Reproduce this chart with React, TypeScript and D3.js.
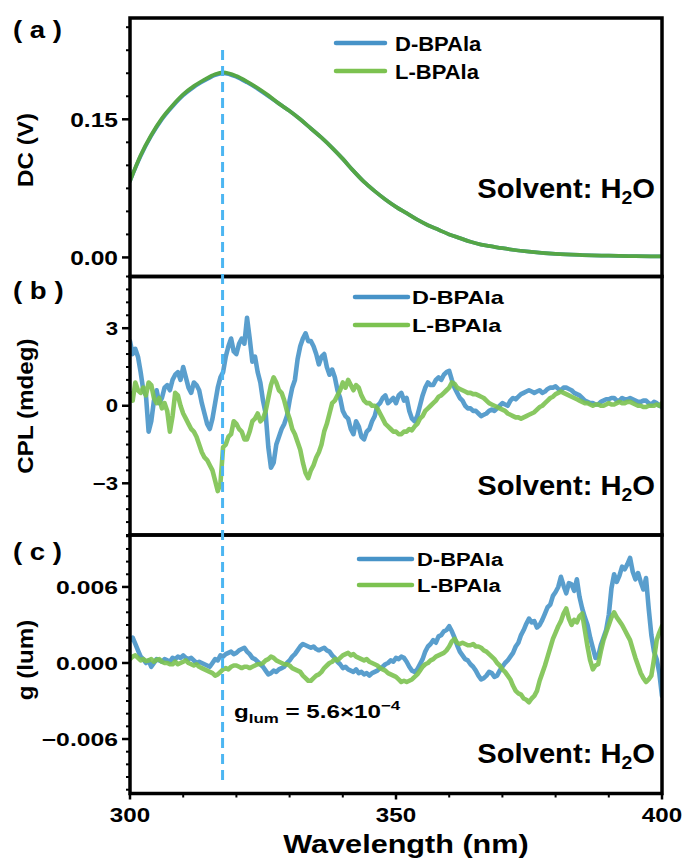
import React from "react";
import * as d3 from "d3";

// ---------- data ----------
// (a) DC signal, sampled on an uneven wavelength grid
const dcWavelengths = [300, 302, 304, 306, 308, 310, 312, 314, 316, 317.5, 320, 322, 324, 326, 328, 330, 332, 334, 336, 338, 340, 342, 344, 346, 348, 350, 352, 354, 356, 358, 360, 362, 364, 366, 368, 370, 375, 380, 385, 390, 395, 400];
const dcD = [0.083, 0.110, 0.132, 0.150, 0.164, 0.176, 0.185, 0.192, 0.198, 0.200, 0.196, 0.190, 0.183, 0.175, 0.167, 0.159, 0.150, 0.140, 0.130, 0.119, 0.107, 0.094, 0.082, 0.072, 0.063, 0.055, 0.048, 0.041, 0.035, 0.030, 0.025, 0.021, 0.017, 0.014, 0.012, 0.010, 0.0062, 0.0038, 0.0026, 0.0019, 0.0014, 0.0011];
const dcL = [0.083, 0.111, 0.133, 0.151, 0.165, 0.177, 0.186, 0.193, 0.199, 0.201, 0.197, 0.191, 0.184, 0.176, 0.167, 0.159, 0.150, 0.140, 0.130, 0.119, 0.107, 0.094, 0.082, 0.072, 0.063, 0.055, 0.048, 0.041, 0.035, 0.030, 0.025, 0.021, 0.017, 0.014, 0.012, 0.010, 0.0062, 0.0038, 0.0026, 0.0019, 0.0014, 0.0011];

// (b) and (c) are sampled every 0.5 nm from 300 to 400 nm
const scanWavelengths = d3.range(300, 400.25, 0.5);

// (b) CPL, mdeg
const cplD = [
  2.5, 2.0, 2.2, 1.9, 1.3, 0.6, 0.4, -1.0, -0.6, 0.2, 0.6, 0.1, 0.3, 0.7, 0.8, 0.6, 1.0, 1.2, 1.3, 1.0,
  1.5, 1.1, 0.7, 0.5, 0.9, 0.8, 0.6, 0.1, -0.3, -0.7, -0.9, -0.5, 0.1, 0.7, 1.1, 1.3, 1.9, 2.3, 2.6, 2.1,
  2.0, 2.4, 2.6, 2.4, 3.4, 2.6, 1.7, 1.9, 1.3, 0.9, 0.2, -0.3, -1.6, -2.4, -2.2, -1.5, -1.2, -0.9, -0.7, -0.4,
  0.2, 0.7, 1.0, 1.8, 2.3, 2.6, 2.8, 2.5, 2.5, 2.3, 2.0, 1.6, 1.9, 2.0, 1.5, 1.2, 1.4, 1.1, 0.6, 0.3,
  -0.2, -0.4, -0.5, -0.9, -1.1, -0.6, -0.8, -1.2, -1.3, -1.0, -0.9, -0.6, -0.4, 0.0, 0.1, 0.3, 0.4, 0.1, 0.2, 0.3,
  0.1, 0.4, 0.5, 0.2, 0.3, -0.2, -0.5, -0.6, -0.4, 0.0, 0.4, 0.7, 0.9, 0.8, 0.8, 1.0, 1.1, 1.0, 1.2, 1.3,
  1.35, 1.0, 0.7, 0.5, 0.3, 0.2, 0.0, -0.1, -0.1, -0.2, -0.2, -0.3, -0.4, -0.35, -0.3, -0.2, -0.15, -0.2, -0.1, 0.0,
  0.1, 0.05, 0.0, 0.2, 0.3, 0.25, 0.35, 0.45, 0.5, 0.55, 0.6, 0.55, 0.5, 0.55, 0.6, 0.5, 0.55, 0.65, 0.7, 0.7,
  0.75, 0.65, 0.6, 0.7, 0.7, 0.65, 0.6, 0.5, 0.45, 0.4, 0.3, 0.2, 0.15, 0.1, 0.1, 0.05, 0.05, 0.15, 0.2, 0.25,
  0.25, 0.3, 0.3, 0.2, 0.2, 0.3, 0.25, 0.25, 0.3, 0.25, 0.2, 0.15, 0.15, 0.2, 0.2, 0.1, 0.05, 0.15, 0.1, 0.0,
  -0.05,
];
const cplL = [
  0.5, 0.2, 0.9, 0.6, 0.5, 0.7, 0.4, 0.9, 0.8, 0.3, 0.1, 0.3, -0.1, 0.1, -0.2, -1.0, -0.4, 0.5, 0.4, 0.0,
  -0.3, -0.5, -0.7, -0.9, -1.0, -1.2, -1.5, -1.8, -2.0, -2.1, -2.3, -2.5, -2.9, -3.3, -3.0, -1.6, -1.5, -1.2, -1.1, -0.6,
  -0.7, -0.9, -1.0, -1.3, -1.3, -1.0, -0.6, -0.5, -0.3, -0.6, -0.5, -0.2, 0.3, 0.8, 1.1, 0.9, 0.6, 0.5, 0.2, -0.2,
  -0.5, -0.9, -1.1, -1.4, -1.7, -2.2, -2.6, -2.8, -2.5, -2.3, -2.0, -1.8, -1.5, -1.0, -0.7, -0.3, 0.1, 0.2, 0.4, 0.6,
  0.9, 0.7, 1.0, 0.8, 0.6, 0.8, 0.7, 0.4, 0.2, 0.1, 0.1, 0.0, 0.0, -0.1, -0.3, -0.5, -0.7, -0.8, -0.9, -1.0,
  -1.0, -1.1, -1.1, -1.0, -1.0, -0.9, -0.95, -0.8, -0.7, -0.5, -0.4, -0.2, -0.1, 0.0, 0.1, 0.2, 0.35, 0.4, 0.5, 0.6,
  0.7, 0.9, 0.85, 0.7, 0.65, 0.6, 0.55, 0.5, 0.5, 0.45, 0.45, 0.4, 0.35, 0.3, 0.2, 0.1, 0.05, 0.0, -0.05, -0.1,
  -0.15, -0.2, -0.3, -0.35, -0.4, -0.45, -0.45, -0.5, -0.45, -0.4, -0.35, -0.3, -0.25, -0.15, -0.05, 0.0, 0.1, 0.2, 0.3, 0.35,
  0.45, 0.5, 0.55, 0.5, 0.45, 0.4, 0.35, 0.3, 0.25, 0.2, 0.15, 0.1, 0.1, 0.05, 0.0, 0.05, 0.05, 0.0, 0.0, 0.05,
  0.1, 0.05, 0.05, 0.1, 0.15, 0.1, 0.1, 0.15, 0.15, 0.1, 0.05, 0.0, 0.0, -0.05, -0.05, 0.0, 0.0, 0.0, 0.05, 0.0,
  0.1,
];

// (c) dissymmetry factor, in units of 1e-3
const glumD = [
  1.8, 2.0, 1.5, 1.0, 0.5, 0.3, 0.0, 0.2, -0.3, 0.0, 0.3, 0.2, 0.1, 0.3, 0.2, 0.1, 0.4, 0.3, 0.5, 0.4,
  0.6, 0.4, 0.3, 0.4, 0.2, 0.0, 0.1, 0.0, -0.1, -0.2, -0.3, 0.0, 0.3, 0.2, 0.6, 0.5, 0.7, 0.8, 0.9, 0.7,
  0.8, 1.0, 1.1, 1.2, 0.9, 0.7, 0.4, 0.3, 0.1, -0.1, -0.3, -0.6, -0.9, -0.8, -0.6, -0.7, -0.5, -0.4, -0.3, 0.0,
  0.2, 0.5, 0.7, 1.0, 1.3, 1.5, 1.4, 1.3, 1.2, 1.3, 1.1, 1.0, 1.1, 1.2, 1.0, 0.9, 0.6, 0.4, 0.1, -0.1,
  -0.4, -0.3, -0.5, -0.6, -0.7, -0.5, -0.8, -0.7, -0.9, -0.8, -1.0, -0.8, -0.7, -0.6, -0.4, -0.3, -0.1, 0.0, 0.2, 0.1,
  0.4, 0.3, 0.5, 0.4, 0.1, -0.3, -0.6, -0.7, -0.5, -0.1, 0.3, 0.9, 1.3, 1.5, 1.8, 1.6, 2.1, 2.2, 2.5, 2.6,
  2.9, 2.5, 2.0, 1.4, 0.9, 0.6, 0.3, 0.2, -0.1, -0.3, -0.6, -1.0, -1.3, -1.2, -1.0, -0.7, -0.8, -1.1, -1.0, -0.6,
  -0.3, 0.0, 0.2, 0.5, 0.8, 1.3, 1.6, 2.2, 2.6, 3.1, 3.5, 3.2, 3.3, 2.8, 3.0, 3.4, 3.9, 4.4, 4.6, 5.3,
  5.6, 6.0, 6.8, 6.1, 5.5, 6.3, 6.2, 5.7, 6.6, 5.2, 4.3, 3.6, 3.0, 2.0, 1.2, 0.4, 0.5, 1.4, 2.0, 2.6,
  3.8, 5.9, 7.0, 6.4, 6.9, 7.6, 7.4, 7.8, 8.3, 7.2, 6.6, 7.1, 6.4, 5.8, 6.7, 4.3, 2.2, 0.9, 0.3, -0.8,
  -2.6,
];
const glumL = [
  0.3, 0.5, 0.6, 0.4, 0.2, 0.3, 0.15, 0.2, 0.3, 0.1, 0.25, 0.3, 0.1, 0.0, 0.0, -0.1, -0.1, 0.1, -0.1, 0.0,
  0.1, 0.2, 0.0, -0.1, -0.2, -0.1, -0.3, -0.4, -0.5, -0.6, -0.7, -0.8, -1.0, -0.9, -0.7, -0.5, -0.4, -0.5, -0.3, -0.2,
  -0.2, -0.3, -0.4, -0.3, -0.3, -0.4, -0.3, -0.2, -0.1, -0.1, 0.0, 0.2, 0.3, 0.5, 0.4, 0.2, 0.1, 0.0, -0.1, -0.1,
  -0.2, -0.4, -0.5, -0.6, -0.7, -1.0, -1.2, -1.4, -1.4, -1.2, -1.0, -0.9, -0.7, -0.4, -0.2, 0.0, 0.1, 0.3, 0.2, 0.4,
  0.6, 0.7, 0.8, 0.6, 0.7, 0.5, 0.4, 0.3, 0.2, 0.3, 0.1, 0.0, -0.1, -0.2, -0.4, -0.5, -0.6, -0.8, -0.9, -1.0,
  -1.1, -1.3, -1.5, -1.4, -1.5, -1.4, -1.3, -1.1, -0.9, -0.6, -0.3, -0.1, 0.0, 0.2, 0.3, 0.5, 0.6, 0.7, 0.8, 1.0,
  1.3, 1.7, 1.9, 1.6, 1.5, 1.6, 1.5, 1.4, 1.4, 1.5, 1.3, 1.3, 1.2, 1.0, 0.9, 0.7, 0.5, 0.3, 0.0, -0.2,
  -0.5, -0.7, -1.0, -1.3, -1.8, -2.2, -2.4, -2.5, -2.8, -2.9, -3.1, -2.8, -2.6, -2.2, -1.4, -0.8, -0.2, 0.5, 1.2, 1.9,
  2.4, 2.9, 3.3, 3.9, 4.3, 3.5, 3.0, 3.4, 3.2, 3.7, 3.9, 2.6, 1.3, 0.2, -0.5, -0.2, -0.1, 0.9, 1.8, 2.4,
  3.0, 3.6, 4.0, 3.6, 3.3, 3.0, 2.6, 2.2, 1.8, 1.1, 0.4, -0.2, -0.8, -1.2, -1.5, -1.3, -1.0, 0.3, 1.8, 2.4,
  2.9,
];

const seriesNames = ["D-BPAla", "L-BPAla"];
const dcTicks = [0, 0.15];
const cplTicks = [-3, 0, 3];
const gTicks = [-0.006, 0, 0.006];
const xTicks = [300, 350, 400];
const markerWavelength = 317.4;

// ---------- styling ----------
const FONT = "'Liberation Sans', Arial, Helvetica, sans-serif";
const BLUE = "#4793c8";
const GREEN = "#7cc250";
const DARK_GREEN = "#55a645";
const MARKER = "#4cb6f2";

const X0 = 130;
const X1 = 662;

type TextProps = {
  x: number;
  y: number;
  size: number;
  sx?: number;
  anchor?: "start" | "middle" | "end";
  children: React.ReactNode;
};

function SText({ x, y, size, sx = 1, anchor = "start", children }: TextProps) {
  return (
    <text
      transform={`translate(${x},${y}) scale(${sx},1)`}
      fontSize={size}
      fontWeight="bold"
      fontFamily={FONT}
      textAnchor={anchor}
      fill="#000"
    >
      {children}
    </text>
  );
}

type PanelCfg = {
  id: string;
  letter: string;
  top: number;
  bottom: number;
  domain: [number, number];
  ticks: number[];
  minorStep: number;
  fmt: (v: number) => string;
  tickFont: number;
  tickSx: number;
  title: string;
  titleY: number;
  labelBaseline: number;
  legend: { x0: number; x1: number; tx: number; y: number[]; font: number; sx: number };
  solventBaseline: number;
  series: { xs: number[]; ys: number[]; color: string; width: number; opacity: number; curve: any }[];
};

const x = d3.scaleLinear().domain([300, 400]).range([X0, X1]);

const panels: PanelCfg[] = [
  {
    id: "a",
    letter: "( a )",
    top: 18,
    bottom: 276.5,
    domain: [-0.0207, 0.26],
    ticks: dcTicks,
    minorStep: 0.025,
    fmt: d3.format(".2f"),
    tickFont: 21,
    tickSx: 1.17,
    title: "DC (V)",
    titleY: 150,
    labelBaseline: 38,
    legend: { x0: 336, x1: 385, tx: 395, y: [43, 71], font: 20, sx: 1.1 },
    solventBaseline: 198,
    series: [
      { xs: dcWavelengths, ys: dcD, color: BLUE, width: 3.8, opacity: 1, curve: d3.curveMonotoneX },
      { xs: dcWavelengths, ys: dcL, color: DARK_GREEN, width: 3.8, opacity: 1, curve: d3.curveMonotoneX },
    ],
  },
  {
    id: "b",
    letter: "( b )",
    top: 276.5,
    bottom: 535,
    domain: [-5, 5],
    ticks: cplTicks,
    minorStep: 0.5,
    fmt: d3.format("d"),
    tickFont: 18.5,
    tickSx: 1.2,
    title: "CPL (mdeg)",
    titleY: 406,
    labelBaseline: 299,
    legend: { x0: 355, x1: 408, tx: 412, y: [297, 325], font: 18, sx: 1.3 },
    solventBaseline: 495,
    series: [
      { xs: scanWavelengths, ys: cplD, color: BLUE, width: 4.6, opacity: 0.9, curve: d3.curveLinear },
      { xs: scanWavelengths, ys: cplL, color: GREEN, width: 4.6, opacity: 0.9, curve: d3.curveLinear },
    ],
  },
  {
    id: "c",
    letter: "( c )",
    top: 535,
    bottom: 793.5,
    domain: [-0.0103, 0.0101],
    ticks: gTicks,
    minorStep: 0.001,
    fmt: d3.format(".3f"),
    tickFont: 18.6,
    tickSx: 1.33,
    title: "g (lum)",
    titleY: 660,
    labelBaseline: 560,
    legend: { x0: 359, x1: 412, tx: 417, y: [559, 585], font: 18.6, sx: 1.18 },
    solventBaseline: 763,
    series: [
      { xs: scanWavelengths, ys: glumD.map((v) => v / 1000), color: BLUE, width: 4.6, opacity: 0.9, curve: d3.curveLinear },
      { xs: scanWavelengths, ys: glumL.map((v) => v / 1000), color: GREEN, width: 4.6, opacity: 0.9, curve: d3.curveLinear },
    ],
  },
];

function Panel({ p }: { p: PanelCfg }) {
  const y = d3.scaleLinear().domain(p.domain).range([p.bottom, p.top]);
  const [lo, hi] = p.domain;
  const minor = d3
    .range(Math.ceil(lo / p.minorStep), Math.floor(hi / p.minorStep) + 1)
    .map((k) => k * p.minorStep)
    .filter((v) => !p.ticks.some((t) => Math.abs(t - v) < p.minorStep / 10));
  const clipId = `clip-${p.id}`;
  return (
    <g>
      <defs>
        <clipPath id={clipId}>
          <rect x={X0} y={p.top} width={X1 - X0} height={p.bottom - p.top} />
        </clipPath>
      </defs>
      <g clipPath={`url(#${clipId})`}>
        {p.series.map((s, i) => {
          const pts: [number, number][] = s.xs.map((w, j) => [w, s.ys[j]]);
          const line = d3
            .line<[number, number]>()
            .x((d) => x(d[0]))
            .y((d) => y(d[1]))
            .curve(s.curve);
          return (
            <path
              key={i}
              d={line(pts) || ""}
              fill="none"
              stroke={s.color}
              strokeWidth={s.width}
              strokeOpacity={s.opacity}
              strokeLinejoin="round"
              strokeLinecap="round"
            />
          );
        })}
      </g>
      {/* left axis ticks */}
      {minor.map((v, i) => (
        <line key={`m${i}`} x1={X0 - 4} x2={X0} y1={y(v)} y2={y(v)} stroke="#000" strokeWidth={2} />
      ))}
      {p.ticks.map((v, i) => (
        <g key={`t${i}`}>
          <line x1={X0 - 8} x2={X0} y1={y(v)} y2={y(v)} stroke="#000" strokeWidth={2.5} />
          <SText x={X0 - 12} y={y(v) + p.tickFont * 0.36} size={p.tickFont} sx={p.tickSx} anchor="end">
            {p.fmt(v)}
          </SText>
        </g>
      ))}
      {/* frame */}
      <rect x={X0} y={p.top} width={X1 - X0} height={p.bottom - p.top} fill="none" stroke="#000" strokeWidth={3.5} />
      {/* axis title */}
      <text
        transform={`translate(33,${p.titleY}) rotate(-90) scale(1.1,1)`}
        fontSize={22}
        fontWeight="bold"
        fontFamily={FONT}
        textAnchor="middle"
        fill="#000"
      >
        {p.title}
      </text>
      {/* panel letter */}
      <SText x={13} y={p.labelBaseline} size={24} sx={1.15}>
        {p.letter}
      </SText>
      {/* legend */}
      {seriesNames.map((name, i) => (
        <g key={name}>
          <line
            x1={p.legend.x0}
            x2={p.legend.x1}
            y1={p.legend.y[i]}
            y2={p.legend.y[i]}
            stroke={i === 0 ? BLUE : GREEN}
            strokeWidth={4.5}
            strokeLinecap="round"
          />
          <SText x={p.legend.tx} y={p.legend.y[i] + p.legend.font * 0.38} size={p.legend.font} sx={p.legend.sx}>
            {name}
          </SText>
        </g>
      ))}
      {/* solvent note */}
      <SText x={655} y={p.solventBaseline} size={27} sx={1.08} anchor="end">
        Solvent: H
        <tspan fontSize={18} dy={6}>
          2
        </tspan>
        <tspan dy={-6}>O</tspan>
      </SText>
    </g>
  );
}

export default function App() {
  const last = panels[panels.length - 1];
  const yBottom = last.bottom;
  const minorX = d3.range(310, 400, 10).filter((v) => !xTicks.includes(v));
  return (
    <svg width={685} height={863} style={{ position: "absolute", left: 0, top: 0, background: "#fff" }}>
      <rect x={0} y={0} width={685} height={863} fill="#fff" />
      {panels.map((p) => (
        <Panel key={p.id} p={p} />
      ))}
      {/* marker at the DC maximum */}
      <line
        x1={x(markerWavelength)}
        x2={x(markerWavelength)}
        y1={50}
        y2={784}
        stroke={MARKER}
        strokeWidth={3}
        strokeDasharray="10 6"
      />
      {/* bottom wavelength axis */}
      {minorX.map((v) => (
        <line key={v} x1={x(v)} x2={x(v)} y1={yBottom} y2={yBottom + 4} stroke="#000" strokeWidth={2} />
      ))}
      {xTicks.map((v) => (
        <g key={v}>
          <line x1={x(v)} x2={x(v)} y1={yBottom} y2={yBottom + 6} stroke="#000" strokeWidth={2.5} />
          <SText x={x(v)} y={822} size={21} sx={1.15} anchor="middle">
            {v}
          </SText>
        </g>
      ))}
      <SText x={406} y={853} size={25.5} sx={1.2} anchor="middle">
        Wavelength (nm)
      </SText>
      {/* dissymmetry factor annotation */}
      <SText x={234} y={718} size={18.6} sx={1.3}>
        g
        <tspan fontSize={13} dy={5}>
          lum
        </tspan>
        <tspan dy={-5}> = 5.6×10</tspan>
        <tspan fontSize={13} dy={-8}>
          −4
        </tspan>
      </SText>
    </svg>
  );
}
